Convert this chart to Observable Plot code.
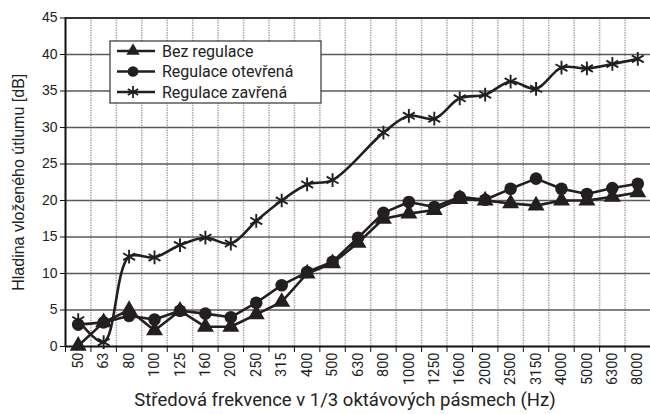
<!DOCTYPE html>
<html><head><meta charset="utf-8">
<script src="https://cdn.jsdelivr.net/npm/d3@7"></script>
<script src="https://cdn.jsdelivr.net/npm/@observablehq/plot@0.6"></script>
<style>body{margin:0;background:#fff}#chart{width:650px;height:414px}</style>
</head><body><div id="chart"></div>
<script>
const categories = ["50","63","80","100","125","160","200","250","315","400","500","630","800","1000","1250","1600","2000","2500","3150","4000","5000","6300","8000"];
const bezRegulace = [0.1,3.3,5.0,2.2,4.9,2.7,2.7,4.4,6.1,10.0,11.4,14.2,17.5,18.2,18.7,20.2,20.0,19.6,19.3,20.0,20.0,20.5,21.1];
const regulaceOtevrena = [3.0,3.3,4.2,3.7,4.9,4.5,4.0,6.0,8.4,10.2,11.6,14.9,18.3,19.8,19.1,20.5,20.1,21.6,23.0,21.6,20.9,21.7,22.3];
const regulaceZavrena = [3.6,0.6,12.3,12.2,13.9,14.9,14.1,17.2,20.0,22.2,22.8,null,29.3,31.6,31.2,34.0,34.5,36.3,35.3,38.2,38.1,38.7,39.4];
const seriesNames = ["Bez regulace","Regulace otevřená","Regulace zavřená"];
const yTicks = [0,5,10,15,20,25,30,35,40,45];
const xTitle = "Středová frekvence v 1/3 oktávových pásmech (Hz)";
const yTitle = "Hladina vloženého útlumu [dB]";

const ink = "#231f20";
const toRows = vals => vals.map((v, i) => ({i, v})).filter(d => d.v != null);
const idx = categories.map((c, i) => i);
const bounds = d3.range(categories.length + 1).map(i => i - 0.5);
const inner = bounds.slice(1, -1);
const din = "Roboto, 'DejaVu Sans', sans-serif";
const arial = "'Liberation Sans', Arial, sans-serif";

const plot = Plot.plot({
  width: 650, height: 414,
  marginTop: 17.5, marginBottom: 68, marginLeft: 65, marginRight: 0,
  x: {type: "linear", domain: [-0.5, categories.length - 0.5]},
  y: {domain: [0, 45]},
  marks: [
    Plot.ruleX(inner, {x: d => d, y1: 0, y2: 45, stroke: "#9a9a9a", strokeWidth: 1.5, strokeDasharray: "1.2,1.3"}),
    Plot.ruleY(yTicks.slice(1, -1), {y: d => d, stroke: "#5a5a5a", strokeWidth: 1.6}),
    Plot.ruleY([45], {y: d => d, stroke: "#333", strokeWidth: 2}),
    Plot.ruleX([-0.5], {x: d => d, stroke: "#111", strokeWidth: 2}),
    Plot.ruleY([0], {y: d => d, stroke: "#111", strokeWidth: 2}),
    Plot.axisY({ticks: yTicks, tickSize: 5, tickPadding: 3, fontSize: 14, fontFamily: arial, fill: "#222", stroke: "#111", label: null}),
    Plot.axisX({ticks: bounds, tickSize: 6, tickFormat: () => "", stroke: "#111", label: null}),
    Plot.axisX({ticks: idx, tickSize: 0, tickPadding: 6, tickRotate: -90, tickFormat: i => categories[i], fontSize: 14.5, fontFamily: din, fill: "#222", label: null}),
    Plot.text([yTitle], {frameAnchor: "left", textAnchor: "middle", rotate: -90, dx: -47, fontSize: 16, fontFamily: arial, fill: "#222"}),
    Plot.text([xTitle], {frameAnchor: "bottom", textAnchor: "middle", dy: 59, dx: -13, fontSize: 18.5, fontFamily: din, fill: "#222"}),
    Plot.line(toRows(regulaceZavrena), {x: "i", y: "v", stroke: ink, strokeWidth: 2.6, curve: "catmull-rom"}),
    Plot.line(toRows(bezRegulace), {x: "i", y: "v", stroke: ink, strokeWidth: 2.6}),
    Plot.line(toRows(regulaceOtevrena), {x: "i", y: "v", stroke: ink, strokeWidth: 2.6}),
    Plot.dot(toRows(regulaceZavrena), {x: "i", y: "v", symbol: "asterisk", r: 6.5, stroke: ink, strokeWidth: 1.9}),
    Plot.dot(toRows(bezRegulace), {x: "i", y: "v", symbol: "triangle", r: 6.3, fill: ink, stroke: "none"}),
    Plot.dot(toRows(regulaceOtevrena), {x: "i", y: "v", symbol: "circle", r: 6.3, fill: ink, stroke: "none"})
  ]
});
document.getElementById("chart").appendChild(plot);

// legend
const svg = d3.select(plot);
const lg = svg.append("g").attr("transform", "translate(110,41)");
lg.append("rect").attr("width", 211).attr("height", 62).attr("fill", "#fff").attr("stroke", "#333").attr("stroke-width", 1.2);
const syms = [d3.symbolTriangle, d3.symbolCircle, d3.symbolAsterisk];
seriesNames.forEach((name, k) => {
  const cy = 10 + k * 20.5;
  const g = lg.append("g").attr("transform", `translate(0,${cy})`);
  g.append("line").attr("x1", 7).attr("x2", 45).attr("stroke", ink).attr("stroke-width", 2.6);
  const area = k === 0 ? Math.PI * 5.5 * 5.5 * 0.8 : Math.PI * 36 * 0.8;
  const p = g.append("path").attr("d", d3.symbol(syms[k], k === 2 ? 100 : area)()).attr("transform", "translate(23,0)");
  if (k === 2) p.attr("fill", "none").attr("stroke", ink).attr("stroke-width", 1.8);
  else p.attr("fill", ink);
  g.append("text").attr("x", 52).attr("y", 0).attr("dy", "0.35em").attr("text-anchor", "start").attr("font-family", din).attr("font-size", 16).attr("fill", "#222").text(name);
});
</script></body></html>
